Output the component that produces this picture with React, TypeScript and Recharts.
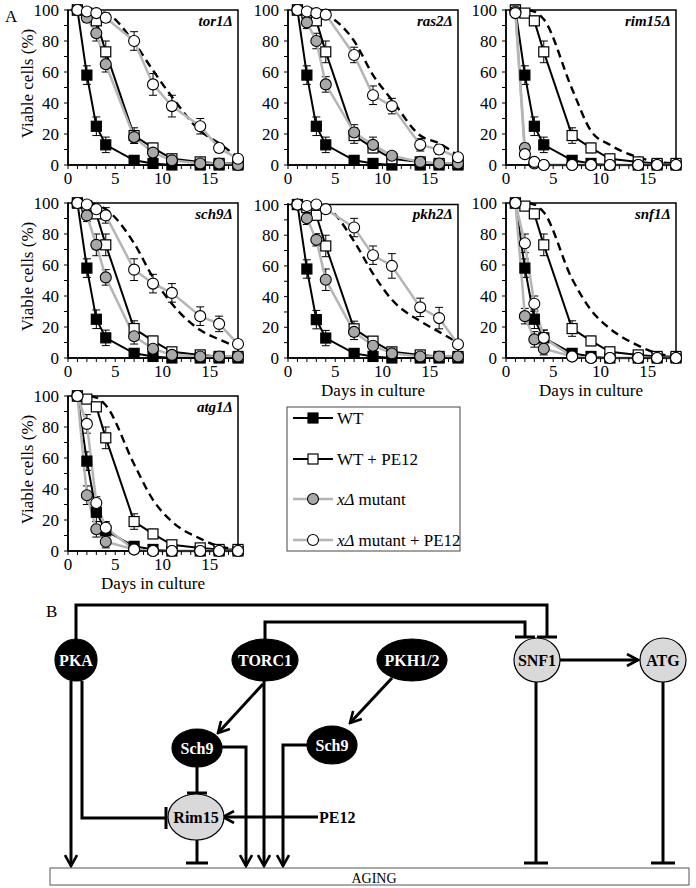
import React from 'react';
import { LineChart, Line, XAxis, YAxis, ErrorBar, ReferenceArea } from 'recharts';

// sampling days (x) and axis ticks
const DAYS = [1, 2, 3, 4, 7, 9, 11, 14, 16, 18];
const X_TICKS = [0, 1, 2, 3, 4, 5, 6, 7, 8, 9, 10, 11, 12, 13, 14, 15, 16, 17, 18];
const Y_TICKS = [0, 10, 20, 30, 40, 50, 60, 70, 80, 90, 100];

// wild type, same curves in every panel
const WT = [100, 58, 25, 13, 3, 1, 0, 0, 0, 0];
const WT_ERR = [0, 6, 6, 5, 1, 1, 0, 0, 0, 0];
const WT_PE12 = [100, 98, 93, 73, 19, 11, 4, 2, 1, 1];
const WT_PE12_ERR = [0, 1, 3, 7, 5, 3, 1, 1, 0, 0];

// mutants: viability, mutant + PE12, and the dashed curve
const TOR1_MUT = [100, 95, 85, 65, 18, 8, 3, 1, 1, 0];
const TOR1_MUT_ERR = [0, 3, 5, 5, 4, 3, 2, 1, 1, 0];
const TOR1_PE12 = [100, 99, 98, 95, 80, 52, 38, 25, 11, 4];
const TOR1_PE12_ERR = [0, 1, 2, 3, 6, 7, 7, 5, 3, 2];
const TOR1_DASH = [100, 100, 99, 98, 79, 61, 44, 22, 14, 5];

const RAS2_MUT = [100, 92, 80, 52, 21, 13, 6, 2, 1, 1];
const RAS2_MUT_ERR = [0, 4, 5, 5, 5, 5, 2, 1, 1, 0];
const RAS2_PE12 = [100, 99, 98, 97, 71, 45, 38, 13, 10, 5];
const RAS2_PE12_ERR = [0, 1, 2, 3, 5, 6, 5, 4, 3, 2];
const RAS2_DASH = [100, 100, 99, 97, 80, 58, 42, 19, 14, 6];

const RIM15_MUT = [99, 11, 1, 0, 0, 0, 0, 0, 0, 0];
const RIM15_MUT_ERR = [1, 3, 1, 0, 0, 0, 0, 0, 0, 0];
const RIM15_PE12 = [98, 7, 2, 0, 0, 0, 0, 0, 0, 0];
const RIM15_PE12_ERR = [1, 2, 1, 0, 0, 0, 0, 0, 0, 0];
const RIM15_DASH = [100, 100, 99, 94, 49, 22, 13, 5, 2, 1];

const SCH9_MUT = [100, 92, 73, 52, 14, 6, 2, 1, 1, 1];
const SCH9_MUT_ERR = [0, 4, 7, 5, 5, 3, 2, 1, 1, 0];
const SCH9_PE12 = [100, 99, 96, 92, 57, 48, 42, 27, 22, 9];
const SCH9_PE12_ERR = [0, 1, 2, 5, 7, 6, 6, 6, 5, 2];
const SCH9_DASH = [100, 100, 99, 96, 74, 52, 35, 18, 12, 7];

const PKH2_MUT = [100, 91, 77, 51, 17, 8, 3, 1, 1, 1];
const PKH2_MUT_ERR = [0, 4, 4, 7, 5, 3, 2, 1, 1, 0];
const PKH2_PE12 = [100, 99, 100, 97, 85, 67, 60, 33, 26, 9];
const PKH2_PE12_ERR = [0, 1, 1, 2, 6, 6, 8, 6, 7, 2];
const PKH2_DASH = [100, 100, 99, 98, 76, 55, 38, 24, 17, 10];

const SNF1_MUT = [100, 27, 12, 6, 1, 0, 0, 0, 0, 0];
const SNF1_MUT_ERR = [0, 5, 5, 4, 1, 0, 0, 0, 0, 0];
const SNF1_PE12 = [100, 74, 35, 13, 1, 0, 0, 0, 0, 0];
const SNF1_PE12_ERR = [0, 6, 5, 5, 1, 0, 0, 0, 0, 0];
const SNF1_DASH = [100, 100, 99, 94, 51, 31, 19, 8, 3, 1];

const ATG1_MUT = [100, 36, 14, 6, 1, 0, 0, 0, 0, 0];
const ATG1_MUT_ERR = [0, 6, 5, 4, 1, 0, 0, 0, 0, 0];
const ATG1_PE12 = [100, 82, 31, 15, 1, 0, 0, 0, 0, 0];
const ATG1_PE12_ERR = [0, 6, 4, 4, 1, 0, 0, 0, 0, 0];
const ATG1_DASH = [100, 100, 99, 94, 56, 33, 19, 8, 3, 1];

const PANELS = [
  { name: 'tor1', mut: TOR1_MUT, mutErr: TOR1_MUT_ERR, pe: TOR1_PE12, peErr: TOR1_PE12_ERR, dash: TOR1_DASH },
  { name: 'ras2', mut: RAS2_MUT, mutErr: RAS2_MUT_ERR, pe: RAS2_PE12, peErr: RAS2_PE12_ERR, dash: RAS2_DASH },
  { name: 'rim15', mut: RIM15_MUT, mutErr: RIM15_MUT_ERR, pe: RIM15_PE12, peErr: RIM15_PE12_ERR, dash: RIM15_DASH },
  { name: 'sch9', mut: SCH9_MUT, mutErr: SCH9_MUT_ERR, pe: SCH9_PE12, peErr: SCH9_PE12_ERR, dash: SCH9_DASH },
  { name: 'pkh2', mut: PKH2_MUT, mutErr: PKH2_MUT_ERR, pe: PKH2_PE12, peErr: PKH2_PE12_ERR, dash: PKH2_DASH },
  { name: 'snf1', mut: SNF1_MUT, mutErr: SNF1_MUT_ERR, pe: SNF1_PE12, peErr: SNF1_PE12_ERR, dash: SNF1_DASH },
  { name: 'atg1', mut: ATG1_MUT, mutErr: ATG1_MUT_ERR, pe: ATG1_PE12, peErr: ATG1_PE12_ERR, dash: ATG1_DASH },
];

// plot-area top-left corner of each panel, and which titles it carries
const LAYOUT = [
  { x: 68, y: 10, yTitle: true, xTitle: false },
  { x: 288, y: 10, yTitle: false, xTitle: false },
  { x: 506, y: 10, yTitle: false, xTitle: false },
  { x: 68, y: 203, yTitle: true, xTitle: false },
  { x: 288, y: 203, yTitle: false, xTitle: true },
  { x: 506, y: 203, yTitle: false, xTitle: true },
  { x: 68, y: 396, yTitle: true, xTitle: true },
];

const PLOT_W = 170;
const PLOT_H = 155;
const AXIS_W = 50;
const GRAY = '#b5b5b5';
const FONT = '"Liberation Serif", "Times New Roman", serif';

const squareDot = (fill: string) => (p: any) => (
  <rect key={`s${p.index}`} x={p.cx - 5} y={p.cy - 5} width={10} height={10} fill={fill} stroke="#000" strokeWidth={1.2} />
);
const circleDot = (fill: string) => (p: any) => (
  <circle key={`c${p.index}`} cx={p.cx} cy={p.cy} r={5.5} fill={fill} stroke="#000" strokeWidth={1.1} />
);

const tickStyle = { fill: '#000', fontSize: 17, fontFamily: FONT };

function Panel({ spec, pos }: { spec: any; pos: any }) {
  const rows = DAYS.map((day, i) => ({
    day,
    wt: WT[i],
    wtErr: WT_ERR[i],
    wtPe: WT_PE12[i],
    wtPeErr: WT_PE12_ERR[i],
    mut: spec.mut[i],
    mutErr: spec.mutErr[i],
    pe: spec.pe[i],
    peErr: spec.peErr[i],
    dash: spec.dash[i],
  }));

  return (
    <div style={{ position: 'absolute', left: pos.x - AXIS_W, top: pos.y - 10 }}>
      <LineChart width={AXIS_W + PLOT_W + 12} height={10 + PLOT_H + 30} data={rows} margin={{ top: 10, right: 12, bottom: 0, left: 0 }}>
        <XAxis
          dataKey="day"
          type="number"
          domain={[0, 18]}
          ticks={X_TICKS}
          interval={0}
          tickFormatter={(v) => (v % 5 === 0 ? String(v) : '')}
          tickSize={4}
          tickMargin={3}
          height={30}
          axisLine={{ stroke: '#000', strokeWidth: 1.5 }}
          tickLine={{ stroke: '#000' }}
          tick={tickStyle}
        />
        <YAxis
          type="number"
          domain={[0, 100]}
          ticks={Y_TICKS}
          interval={0}
          tickFormatter={(v) => (v % 20 === 0 ? String(v) : '')}
          width={AXIS_W}
          tickSize={4}
          tickMargin={5}
          axisLine={{ stroke: '#000', strokeWidth: 1.5 }}
          tickLine={{ stroke: '#000' }}
          tick={tickStyle}
        />
        <ReferenceArea x1={0} x2={18} y1={0} y2={100} fill="none" stroke="#000" strokeWidth={1.5} />
        <Line dataKey="dash" type="monotone" stroke="#000" strokeWidth={2.4} strokeDasharray="8 5" dot={false} activeDot={false} isAnimationActive={false} />
        <Line dataKey="wt" stroke="#000" strokeWidth={2} dot={squareDot('#000')} activeDot={false} isAnimationActive={false}>
          <ErrorBar dataKey="wtErr" width={4} stroke="#000" strokeWidth={1} direction="y" isAnimationActive={false} />
        </Line>
        <Line dataKey="wtPe" stroke="#000" strokeWidth={2} dot={squareDot('#fff')} activeDot={false} isAnimationActive={false}>
          <ErrorBar dataKey="wtPeErr" width={4} stroke="#000" strokeWidth={1} direction="y" isAnimationActive={false} />
        </Line>
        <Line dataKey="mut" stroke={GRAY} strokeWidth={2.5} dot={circleDot('#a8a8a8')} activeDot={false} isAnimationActive={false}>
          <ErrorBar dataKey="mutErr" width={4} stroke="#000" strokeWidth={1} direction="y" isAnimationActive={false} />
        </Line>
        <Line dataKey="pe" stroke={GRAY} strokeWidth={2.5} dot={circleDot('#fff')} activeDot={false} isAnimationActive={false}>
          <ErrorBar dataKey="peErr" width={4} stroke="#000" strokeWidth={1} direction="y" isAnimationActive={false} />
        </Line>
      </LineChart>
    </div>
  );
}

function Legend() {
  const items = [
    { label: 'WT', y: 418, line: '#000', mark: 'sq', fill: '#000' },
    { label: 'WT + PE12', y: 459, line: '#000', mark: 'sq', fill: '#fff' },
    { label: 'mutant', y: 499, line: GRAY, mark: 'ci', fill: '#a8a8a8' },
    { label: 'mutant + PE12', y: 540, line: GRAY, mark: 'ci', fill: '#fff' },
  ];
  return (
    <g>
      <rect x={287} y={407} width={173} height={144} fill="none" stroke="#444" strokeWidth={1} />
      {items.map((it, i) => (
        <g key={i}>
          <line x1={293} x2={333} y1={it.y} y2={it.y} stroke={it.line} strokeWidth={it.mark === 'sq' ? 2 : 2.5} />
          {it.mark === 'sq' ? (
            <rect x={308} y={it.y - 5} width={10} height={10} fill={it.fill} stroke="#000" strokeWidth={1.2} />
          ) : (
            <circle cx={313} cy={it.y} r={5.5} fill={it.fill} stroke="#000" strokeWidth={1.1} />
          )}
          <text x={337} y={it.y + 6} fontSize={17}>
            {it.mark === 'ci' && <tspan fontStyle="italic">xΔ </tspan>}
            {it.label}
          </text>
        </g>
      ))}
    </g>
  );
}

function Node({ cx, cy, rx, ry, label, dark }: any) {
  return (
    <g>
      <ellipse cx={cx} cy={cy} rx={rx} ry={ry} fill={dark ? '#000' : '#d9d9d9'} stroke="#000" strokeWidth={1.2} />
      <text x={cx} y={cy + 5.5} textAnchor="middle" fontSize={16} fontWeight="bold" fill={dark ? '#fff' : '#000'}>
        {label}
      </text>
    </g>
  );
}

const Bar = ({ x1, y1, x2, y2 }: any) => <line x1={x1} y1={y1} x2={x2} y2={y2} stroke="#000" strokeWidth={3} />;

function Pathway() {
  const s = { fill: 'none', stroke: '#000', strokeWidth: 3 };
  return (
    <g>
      <defs>
        <marker id="arr" viewBox="0 0 14 14" refX="12.5" refY="7" markerWidth="14" markerHeight="14" markerUnits="userSpaceOnUse" orient="auto">
          <path d="M1.5,1 L12.5,7 L1.5,13" fill="none" stroke="#000" strokeWidth={2.6} />
        </marker>
      </defs>
      <text x={46} y={617} fontSize={17}>B</text>

      {/* PKA / TORC1 inhibit SNF1 */}
      <path d="M76,640 V605 H547 V636" {...s} />
      <Bar x1={537} y1={637} x2={557} y2={637} />
      <path d="M265,639 V622 H525 V636" {...s} />
      <Bar x1={515} y1={637} x2={535} y2={637} />

      {/* PKA */}
      <path d="M71,681 V866" {...s} markerEnd="url(#arr)" />
      <path d="M82,681 V818 H166" {...s} />
      <Bar x1={166} y1={807} x2={166} y2={829} />

      {/* TORC1 */}
      <path d="M263,684 L218,733" {...s} markerEnd="url(#arr)" />
      <path d="M264,681 V866" {...s} markerEnd="url(#arr)" />

      {/* Sch9 branches */}
      <path d="M222,747 H246 V866" {...s} markerEnd="url(#arr)" />
      <path d="M308,745 H283 V866" {...s} markerEnd="url(#arr)" />
      <path d="M392,678 L350,723" {...s} markerEnd="url(#arr)" />
      <path d="M197,767 V792" {...s} />
      <Bar x1={187} y1={793} x2={207} y2={793} />

      {/* Rim15 */}
      <path d="M197,840 V862" {...s} />
      <Bar x1={186} y1={863} x2={208} y2={863} />
      <path d="M318,817 H223" {...s} markerEnd="url(#arr)" />
      <text x={319} y={823} fontSize={16} fontWeight="bold">PE12</text>

      {/* SNF1 / ATG */}
      <path d="M560,660 H638" {...s} markerEnd="url(#arr)" />
      <path d="M536,682 V862" {...s} />
      <Bar x1={524} y1={863} x2={548} y2={863} />
      <path d="M663,682 V862" {...s} />
      <Bar x1={651} y1={863} x2={675} y2={863} />

      <Node cx={76} cy={660} rx={21} ry={21} label="PKA" dark />
      <Node cx={265} cy={660} rx={33} ry={21} label="TORC1" dark />
      <Node cx={412} cy={660} rx={35} ry={21} label="PKH1/2" dark />
      <Node cx={197} cy={748} rx={25} ry={19} label="Sch9" dark />
      <Node cx={332} cy={745} rx={25} ry={19} label="Sch9" dark />
      <Node cx={196} cy={817} rx={28} ry={23} label="Rim15" />
      <Node cx={537} cy={660} rx={23} ry={22} label="SNF1" />
      <Node cx={663} cy={660} rx={23} ry={22} label="ATG" />

      <rect x={50} y={868} width={639} height={17} fill="#fff" stroke="#555" strokeWidth={1} />
      <text x={374} y={883} textAnchor="middle" fontSize={14}>AGING</text>
    </g>
  );
}

export default function App() {
  return (
    <div style={{ position: 'absolute', left: 0, top: 0, width: 696, height: 888, background: '#fff', fontFamily: FONT }}>
      {PANELS.map((p, i) => (
        <Panel key={p.name} spec={p} pos={LAYOUT[i]} />
      ))}
      <svg width={696} height={888} style={{ position: 'absolute', left: 0, top: 0, pointerEvents: 'none', fontFamily: FONT }}>
        <text x={5} y={22} fontSize={17}>A</text>
        {PANELS.map((p, i) => {
          const pos = LAYOUT[i];
          return (
            <g key={p.name}>
              <text x={pos.x + PLOT_W - 5} y={pos.y + 16} textAnchor="end" fontSize={15} fontWeight="bold" fontStyle="italic">
                {p.name}Δ
              </text>
              {pos.yTitle && (
                <text
                  x={27}
                  y={pos.y + PLOT_H / 2 - 4}
                  textAnchor="middle"
                  fontSize={17}
                  transform={`rotate(-90 27 ${pos.y + PLOT_H / 2 - 4})`}
                  dy={6}
                >
                  Viable cells (%)
                </text>
              )}
              {pos.xTitle && (
                <text x={pos.x + PLOT_W / 2} y={pos.y + PLOT_H + 38} textAnchor="middle" fontSize={17}>
                  Days in culture
                </text>
              )}
            </g>
          );
        })}
        <Legend />
        <Pathway />
      </svg>
    </div>
  );
}
